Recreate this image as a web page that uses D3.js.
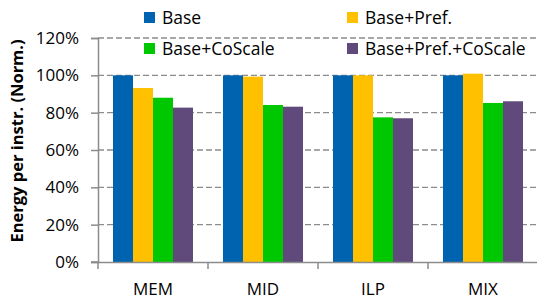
<!DOCTYPE html>
<html>
<head>
<meta charset="utf-8">
<script src="https://cdn.jsdelivr.net/npm/d3@7"></script>
<style>
  body { margin: 0; background: #fff; }
  text { font-family: "Open Sans", sans-serif; fill: #000; }
</style>
</head>
<body>
<svg id="chart" width="537" height="301"></svg>
<script>
var categories = ["MEM", "MID", "ILP", "MIX"];
var series = ["Base", "Base+Pref.", "Base+CoScale", "Base+Pref.+CoScale"];
var base = [100, 100, 100, 100];
var basePref = [93.2, 99.3, 100, 100.9];
var baseCoScale = [88.0, 84.1, 77.5, 85.2];
var basePrefCoScale = [82.7, 83.2, 77.0, 86.1];
var yTicks = [0, 20, 40, 60, 80, 100, 120];

var values = [base, basePref, baseCoScale, basePrefCoScale];
var colors = ["#0063AF", "#FFC000", "#00C800", "#5F4A7B"];

var svg = d3.select("#chart"),
  plotLeft = 98, plotRight = 538, plotTop = 38, plotBottom = 262;

var x0 = d3.scaleBand().domain(categories).range([plotLeft, plotRight]);
var x1 = d3.scaleBand().domain(series).range([0, x0.bandwidth()]).paddingOuter(0.75);
var y = d3.scaleLinear().domain([0, 120]).range([plotBottom, plotTop]);
var color = d3.scaleOrdinal().domain(series).range(colors);

// grid
svg.append("g")
  .selectAll("line")
  .data(yTicks.filter(function(d) { return d > 0; }))
  .join("line")
  .attr("x1", plotLeft).attr("x2", plotRight)
  .attr("y1", function(d) { return y(d); })
  .attr("y2", function(d) { return y(d); })
  .attr("stroke", "#8c8c8c")
  .attr("stroke-width", 1.3)
  .attr("stroke-dasharray", "6,3");

// bars
var rows = [];
categories.forEach(function(c, i) {
  series.forEach(function(s, j) {
    rows.push({cat: c, s: s, v: values[j][i]});
  });
});
svg.append("g")
  .selectAll("rect")
  .data(rows)
  .join("rect")
  .attr("x", function(d) { return x0(d.cat) + x1(d.s); })
  .attr("width", x1.bandwidth())
  .attr("y", function(d) { return y(d.v); })
  .attr("height", function(d) { return y(0) - y(d.v); })
  .attr("fill", function(d) { return color(d.s); });

// y axis
var yAxis = svg.append("g")
  .attr("transform", "translate(" + plotLeft + ",0)")
  .call(d3.axisLeft(y).tickValues(yTicks).tickSize(7).tickPadding(12)
    .tickFormat(function(d) { return d + "%"; }));
yAxis.select(".domain").attr("stroke", "#8c8c8c").attr("stroke-width", 1.5);
yAxis.selectAll(".tick line").attr("stroke", "#8c8c8c").attr("stroke-width", 1.5);
yAxis.selectAll(".tick text")
  .attr("font-family", "Open Sans").attr("font-size", 17).attr("fill", "#000");

// x axis
var xAxis = svg.append("g")
  .attr("transform", "translate(0," + plotBottom + ")")
  .call(d3.axisBottom(x0).tickSize(0).tickPadding(21));
xAxis.select(".domain").attr("stroke", "#8c8c8c").attr("stroke-width", 1.5);
xAxis.selectAll(".tick text")
  .attr("font-family", "Open Sans").attr("font-size", 17).attr("fill", "#000");
xAxis.selectAll(".sep")
  .data(categories)
  .join("line")
  .attr("class", "sep")
  .attr("x1", function(d) { return x0(d); })
  .attr("x2", function(d) { return x0(d); })
  .attr("y1", 0).attr("y2", 7)
  .attr("stroke", "#8c8c8c").attr("stroke-width", 1.5);
svg.append("line")
  .attr("x1", plotLeft - 7).attr("x2", plotLeft)
  .attr("y1", plotBottom).attr("y2", plotBottom)
  .attr("stroke", "#8c8c8c").attr("stroke-width", 1.5);

// y title
svg.append("text")
  .attr("transform", "translate(23,141) rotate(-90)")
  .attr("text-anchor", "middle")
  .attr("font-size", 16.5)
  .attr("font-weight", "bold")
  .text("Energy per instr. (Norm.)");

// legend
var legendPos = [[144, 12], [347, 12], [144, 43], [347, 43]];
var legend = svg.append("g")
  .selectAll("g")
  .data(series)
  .join("g")
  .attr("transform", function(d, i) { return "translate(" + legendPos[i][0] + "," + legendPos[i][1] + ")"; });
legend.append("rect")
  .attr("width", 11).attr("height", 11)
  .attr("fill", function(d) { return color(d); });
legend.append("text")
  .attr("x", 18).attr("y", 11.5)
  .attr("font-size", 17.5)
  .text(function(d) { return d; });
</script>
</body>
</html>
